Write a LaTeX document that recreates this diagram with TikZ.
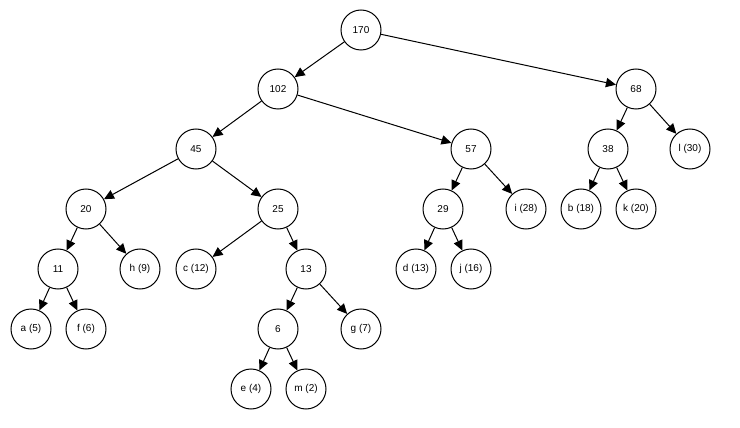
\documentclass[tikz,border=0pt]{standalone}
\usepackage{fontspec}
\setmainfont{Liberation Sans}
\usetikzlibrary{arrows.meta}
\begin{document}
\begin{tikzpicture}[x=0.75pt,y=-0.75pt,
  tn/.style={circle,draw,line width=0.75pt,minimum size=30pt,inner sep=0pt,font=\fontsize{7.5}{9}\selectfont},
  edge/.style={line width=0.75pt,-{Triangle[length=7.5pt,width=7pt]}}]
\useasboundingbox[fill=white] (0,0) rectangle (740,428);
\node[tn] (n170) at (361,30) {170};
\node[tn] (n102) at (278,89) {102};
\node[tn] (n68) at (636,89) {68};
\node[tn] (n45) at (196,149) {45};
\node[tn] (n57) at (471,149) {57};
\node[tn] (n38) at (608,149) {38};
\node[tn] (nl) at (690,149) {l (30)};
\node[tn] (n20) at (86,209) {20};
\node[tn] (n25) at (278,209) {25};
\node[tn] (n29) at (443,209) {29};
\node[tn] (ni) at (526,209) {i (28)};
\node[tn] (nb) at (581,209) {b (18)};
\node[tn] (nk) at (636,209) {k (20)};
\node[tn] (n11) at (58,269) {11};
\node[tn] (nh) at (140,269) {h (9)};
\node[tn] (nc) at (196,269) {c (12)};
\node[tn] (n13) at (306,269) {13};
\node[tn] (nd) at (416,269) {d (13)};
\node[tn] (nj) at (471,269) {j (16)};
\node[tn] (na) at (31,329) {a (5)};
\node[tn] (nf) at (86,329) {f (6)};
\node[tn] (n6) at (278,329) {6};
\node[tn] (ng) at (361,329) {g (7)};
\node[tn] (ne) at (251,389) {e (4)};
\node[tn] (nm) at (306,389) {m (2)};
\draw[edge] (n170) -- (n102);
\draw[edge] (n170) -- (n68);
\draw[edge] (n102) -- (n45);
\draw[edge] (n102) -- (n57);
\draw[edge] (n68) -- (n38);
\draw[edge] (n68) -- (nl);
\draw[edge] (n45) -- (n20);
\draw[edge] (n45) -- (n25);
\draw[edge] (n57) -- (n29);
\draw[edge] (n57) -- (ni);
\draw[edge] (n38) -- (nb);
\draw[edge] (n38) -- (nk);
\draw[edge] (n20) -- (n11);
\draw[edge] (n20) -- (nh);
\draw[edge] (n25) -- (nc);
\draw[edge] (n25) -- (n13);
\draw[edge] (n29) -- (nd);
\draw[edge] (n29) -- (nj);
\draw[edge] (n11) -- (na);
\draw[edge] (n11) -- (nf);
\draw[edge] (n13) -- (n6);
\draw[edge] (n13) -- (ng);
\draw[edge] (n6) -- (ne);
\draw[edge] (n6) -- (nm);
\end{tikzpicture}
\end{document}
